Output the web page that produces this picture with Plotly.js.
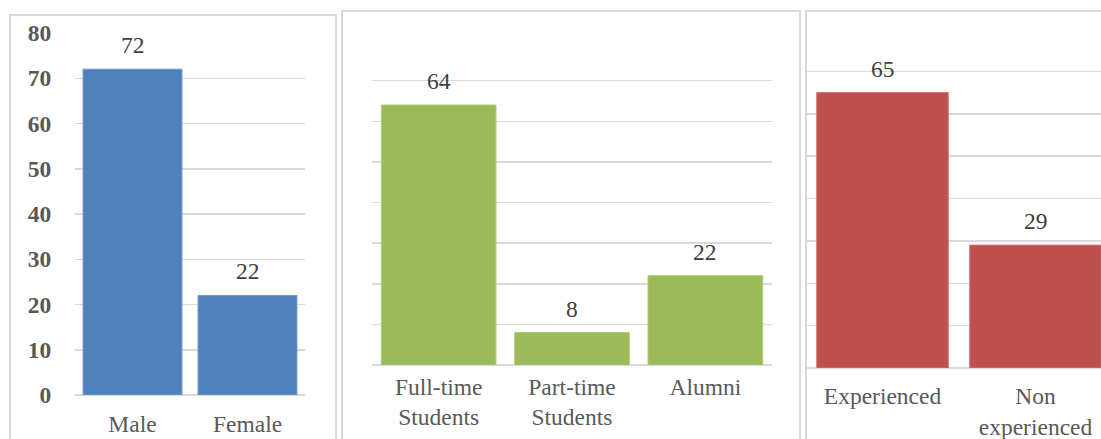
<!DOCTYPE html>
<html>
<head>
<meta charset="utf-8">
<script src="https://cdn.plot.ly/plotly-3.0.1.min.js"></script>
<style>html,body{margin:0;padding:0;background:#fff;}#chart{width:1101px;height:439px;}</style>
</head>
<body>
<div id="chart"></div>
<script>
// Data
const genderCats = ['Male', 'Female'];
const genderVals = [72, 22];
const statusCats = ['Full-time<br>Students', 'Part-time<br>Students', 'Alumni'];
const statusVals = [64, 8, 22];
const expCats = ['Experienced', 'Non<br>experienced'];
const expVals = [65, 29];
const yTickVals = [0, 10, 20, 30, 40, 50, 60, 70, 80];

const W = 1101, H = 439;
const fx = p => p / W;
const fy = p => 1 - p / H;
const FONT = '"Liberation Serif"';
const FS = 23.5;
const GRID = '#d9d9d9';

const traces = [
  {type: 'bar', x: genderCats, y: genderVals, xaxis: 'x', yaxis: 'y', marker: {color: '#4f81bd', line: {color: '#6f97cc', width: 1}}, hoverinfo: 'none'},
  {type: 'bar', x: statusCats, y: statusVals, xaxis: 'x2', yaxis: 'y2', marker: {color: '#9bbb59', line: {color: '#b0cc78', width: 1}}, hoverinfo: 'none'},
  {type: 'bar', x: expCats, y: expVals, xaxis: 'x3', yaxis: 'y3', marker: {color: '#c0504d', line: {color: '#d27573', width: 1}}, hoverinfo: 'none'}
];

function xAx(domain, cats, range, ticklen) {
  return {
    domain: domain, anchor: 'free', type: 'category', categoryarray: cats, categoryorder: 'array',
    range: range, showgrid: false, zeroline: false, showline: false,
    ticks: 'outside', ticklen: ticklen, tickcolor: 'rgba(0,0,0,0)',
    tickfont: {family: FONT, size: FS, color: '#595959'}, fixedrange: true
  };
}
function yAx(domain, showLabels) {
  return {
    domain: domain, range: [0, 80], tickvals: yTickVals, showgrid: true, gridcolor: GRID, gridwidth: 1.5,
    zeroline: true, zerolinecolor: GRID, zerolinewidth: 1.5, showline: false,
    showticklabels: showLabels, ticks: showLabels ? 'outside' : '', ticklen: 18, tickcolor: 'rgba(0,0,0,0)',
    tickfont: {family: FONT, size: FS, color: '#595959', weight: 'bold'}, fixedrange: true
  };
}

const annotations = [];
function addLabels(cats, vals, xr, yr) {
  cats.forEach((c, i) => {
    annotations.push({x: c, y: vals[i], xref: xr, yref: yr, text: String(vals[i]), showarrow: false,
      yanchor: 'bottom', yshift: 9, font: {family: FONT, size: FS, color: '#404040'}});
  });
}
addLabels(genderCats, genderVals, 'x', 'y');
addLabels(statusCats, statusVals, 'x2', 'y2');
addLabels(expCats, expVals, 'x3', 'y3');

function box(x0, y0, x1, y1) {
  return {type: 'rect', xref: 'paper', yref: 'paper', x0: fx(x0), x1: fx(x1), y0: fy(y1), y1: fy(y0),
    line: {color: GRID, width: 2}, fillcolor: 'rgba(0,0,0,0)', layer: 'below'};
}

const layout = {
  width: W, height: H, margin: {l: 0, r: 0, t: 0, b: 0}, paper_bgcolor: '#fff', plot_bgcolor: 'rgba(0,0,0,0)',
  showlegend: false, bargap: 0.14, font: {family: FONT},
  xaxis: Object.assign(xAx([fx(75), fx(305)], genderCats, [-0.5, 1.5], 8), {position: fy(395)}),
  yaxis: Object.assign(yAx([fy(395), fy(33)], true), {anchor: 'x'}),
  xaxis2: Object.assign(xAx([fx(372), fx(772)], statusCats, [-0.5, 2.5], 0.5), {position: fy(365)}),
  yaxis2: Object.assign(yAx([fy(365), fy(40)], false), {anchor: 'x2'}),
  xaxis3: Object.assign(xAx([fx(806), 1], expCats, [-0.5, -0.5 + 295 / 153], 7), {position: fy(368)}),
  yaxis3: Object.assign(yAx([fy(368), fy(29)], false), {anchor: 'x3'}),
  annotations: annotations,
  shapes: [box(10, 15, 336, 460), box(342, 11, 800, 460), box(806, 11, 1120, 460)]
};

Plotly.newPlot('chart', traces, layout, {displayModeBar: false, staticPlot: true});
</script>
</body>
</html>
